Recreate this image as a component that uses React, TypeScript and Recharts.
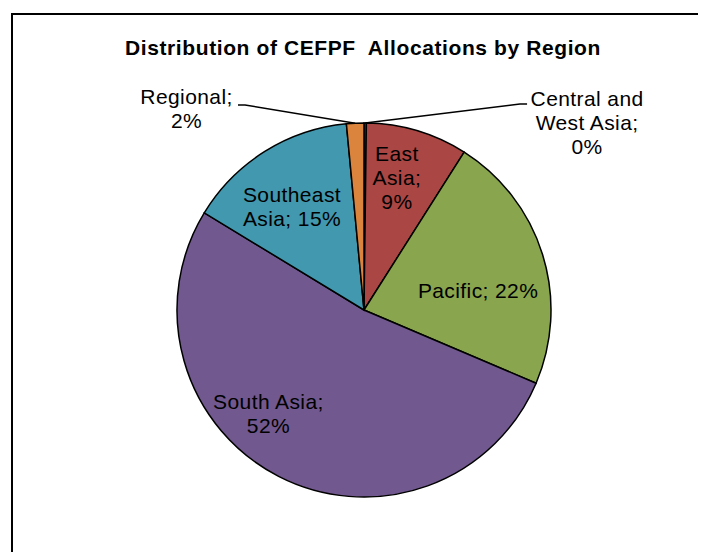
import { PieChart, Pie, Cell } from "recharts";

const regions = [
  "Central and West Asia",
  "East Asia",
  "Pacific",
  "South Asia",
  "Southeast Asia",
  "Regional",
];
const shares = [0.2, 8.8, 22.4, 52.3, 14.8, 1.5];
const colors = ["#4572A7", "#AA4643", "#89A54E", "#71588F", "#4198AF", "#DB843D"];

const data = regions.map((name, i) => ({ name, value: shares[i] }));

const FONT = '"Liberation Sans", Arial, sans-serif';

// where each label sits, as fractions of the radius from the centre
// text lines use {p} for the rounded percentage
const labelLayout: Record<
  string,
  { x: number; y: number; lines: string[]; leader?: [number, number][] }
> = {
  "Central and West Asia": {
    x: 1.193,
    y: -1.005,
    lines: ["Central and", "West Asia;", "{p}%"],
    leader: [
      [0.872, -1.102],
      [0.834, -1.102],
    ],
  },
  "East Asia": { x: 0.176, y: -0.706, lines: ["East", "Asia;", "{p}%"] },
  Pacific: { x: 0.61, y: -0.102, lines: ["Pacific; {p}%"] },
  "South Asia": { x: -0.511, y: 0.553, lines: ["South Asia;", "{p}%"] },
  "Southeast Asia": { x: -0.385, y: -0.551, lines: ["Southeast", "Asia; {p}%"] },
  Regional: {
    x: -0.949,
    y: -1.075,
    lines: ["Regional;", "{p}%"],
    leader: [
      [-0.674, -1.096],
      [-0.636, -1.096],
    ],
  },
};

const RADIAN = Math.PI / 180;

function renderLabel(props: any) {
  const { cx, cy, midAngle, outerRadius, percent, name } = props;
  const lay = labelLayout[name];
  if (!lay) return null;
  const r = outerRadius;
  const p = Math.round(percent * 100);
  const tx = cx + lay.x * r;
  const ty = cy + lay.y * r;
  const n = lay.lines.length;
  let leader = null;
  if (lay.leader) {
    const ex = cx + r * Math.cos(-midAngle * RADIAN);
    const ey = cy + r * Math.sin(-midAngle * RADIAN);
    const pts = lay.leader.map(([a, b]) => `${cx + a * r},${cy + b * r}`);
    pts.push(`${ex},${ey}`);
    leader = (
      <polyline points={pts.join(" ")} fill="none" stroke="#000" strokeWidth={1.5} />
    );
  }
  return (
    <g key={`lbl-${name}`}>
      {leader}
      <text
        textAnchor="middle"
        fontFamily={FONT}
        fontSize={21}
        letterSpacing={0.4}
        fill="#000"
      >
        {lay.lines.map((l, i) => (
          <tspan key={i} x={tx} y={ty - (n - 1) * 12 + i * 24 + 7.5}>
            {l.replace("{p}", String(p))}
          </tspan>
        ))}
      </text>
    </g>
  );
}

export default function App() {
  return (
    <div style={{ position: "relative", width: 698, height: 544 }}>
      <div
        style={{
          position: "absolute",
          left: 3,
          top: 5,
          width: 720,
          height: 560,
          borderLeft: "2px solid #000",
          borderTop: "2px solid #000",
          boxSizing: "border-box",
        }}
      />
      <div
        style={{
          position: "absolute",
          left: 0,
          top: 28,
          width: 710,
          textAlign: "center",
          fontFamily: FONT,
          fontWeight: "bold",
          fontSize: 21,
          lineHeight: "24px",
          letterSpacing: 0.6,
          color: "#000",
          whiteSpace: "pre",
        }}
      >
        Distribution of CEFPF  Allocations by Region
      </div>
      <div style={{ position: "absolute", left: 0, top: 0 }}>
        <PieChart
          width={698}
          height={544}
          margin={{ top: 0, right: 0, bottom: 0, left: 0 }}
        >
          <Pie
            data={data}
            dataKey="value"
            nameKey="name"
            cx={356}
            cy={302}
            outerRadius={187}
            startAngle={90}
            endAngle={-270}
            stroke="#000"
            strokeWidth={1.5}
            labelLine={false}
            label={renderLabel}
            isAnimationActive={false}
          >
            {data.map((d, i) => (
              <Cell key={d.name} fill={colors[i]} />
            ))}
          </Pie>
        </PieChart>
      </div>
    </div>
  );
}
